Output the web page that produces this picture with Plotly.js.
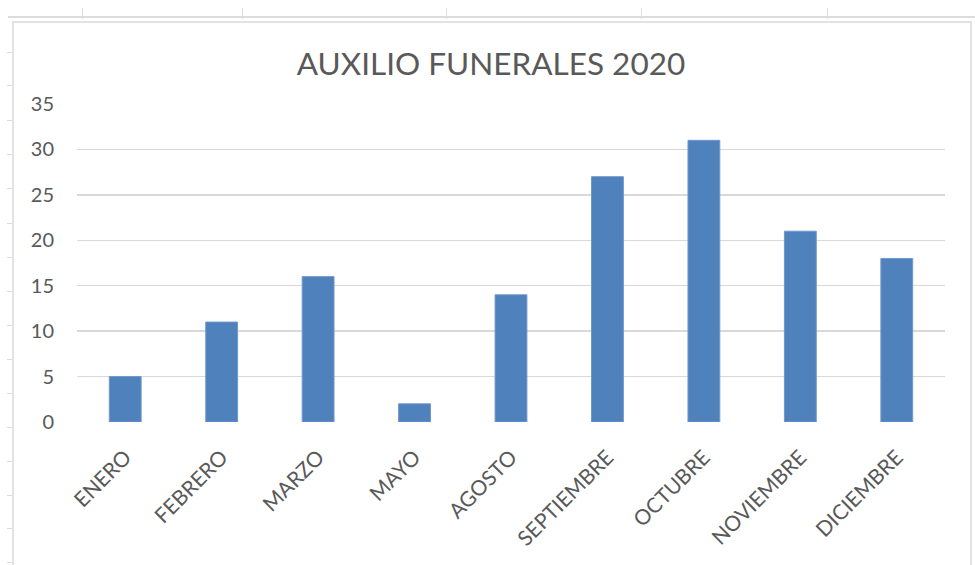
<!DOCTYPE html>
<html>
<head>
<meta charset="utf-8">
<script src="https://cdn.plot.ly/plotly-3.0.1.min.js"></script>
<style>
  html, body { margin: 0; padding: 0; background: #ffffff; }
  body { width: 975px; height: 565px; position: relative; overflow: hidden; }
  .deco { position: absolute; background: #dcdcdc; }
  #frame { position: absolute; left: 12px; top: 21px; width: 960px; height: 560px;
           border: 2px solid #e2e2e2; box-sizing: border-box; background: #ffffff; }
  #chart { position: absolute; left: 0; top: 0; width: 975px; height: 565px; }
</style>
</head>
<body>
<div id="frame"></div>
<div id="chart"></div>
<script>
// ---- data ----
const months = ["ENERO", "FEBRERO", "MARZO", "MAYO", "AGOSTO", "SEPTIEMBRE", "OCTUBRE", "NOVIEMBRE", "DICIEMBRE"];
const counts = [5, 11, 16, 2, 14, 27, 31, 21, 18];
const yTicks = [0, 5, 10, 15, 20, 25, 30, 35];
const chartTitle = "AUXILIO FUNERALES 2020";

// ---- spreadsheet grid decoration behind the chart ----
function deco(l, t, w, h) {
  const d = document.createElement('div');
  d.className = 'deco';
  d.style.left = l + 'px'; d.style.top = t + 'px';
  d.style.width = w + 'px'; d.style.height = h + 'px';
  document.body.insertBefore(d, document.getElementById('frame'));
}
deco(8, 16, 967, 2);
[82, 242, 446, 641, 827].forEach(x => deco(x, 8, 1, 11));
[52, 85, 120, 154, 188, 223, 257, 291, 325, 359, 393, 427, 461, 495, 528, 562].forEach(y => deco(7, y, 6, 1));

const grey = '#595959';
const font = 'Lato, "Open Sans", sans-serif';

const trace = {
  type: 'bar',
  x: months,
  y: counts,
  marker: { color: '#4F81BD', line: { color: '#6f97c9', width: 1 } },
  hoverinfo: 'x+y'
};

const layout = {
  width: 975, height: 565,
  margin: { l: 77, r: 30, t: 104, b: 143 },
  paper_bgcolor: 'rgba(0,0,0,0)',
  plot_bgcolor: 'rgba(0,0,0,0)',
  bargap: 0.67,
  showlegend: false,
  title: {
    text: chartTitle,
    font: { family: font, size: 31.5, color: grey },
    x: 491 / 975, xref: 'container', xanchor: 'center',
    y: 1 - 64 / 565, yref: 'container', yanchor: 'middle'
  },
  xaxis: {
    type: 'category',
    tickangle: -45,
    tickfont: { family: font, size: 21, color: grey },
    showgrid: false, zeroline: false, showline: false,
    ticks: '', ticklabelstandoff: 18
  },
  yaxis: {
    range: [0, 35],
    tickvals: yTicks,
    ticktext: yTicks.map(String),
    tickfont: { family: font, size: 20, color: grey },
    showgrid: true, gridcolor: '#d9d9d9', gridwidth: 1.5,
    zeroline: false, showline: false, ticks: '', ticklabelstandoff: 22
  }
};

Plotly.newPlot('chart', [trace], layout, { displayModeBar: false, staticPlot: true });
</script>
</body>
</html>
